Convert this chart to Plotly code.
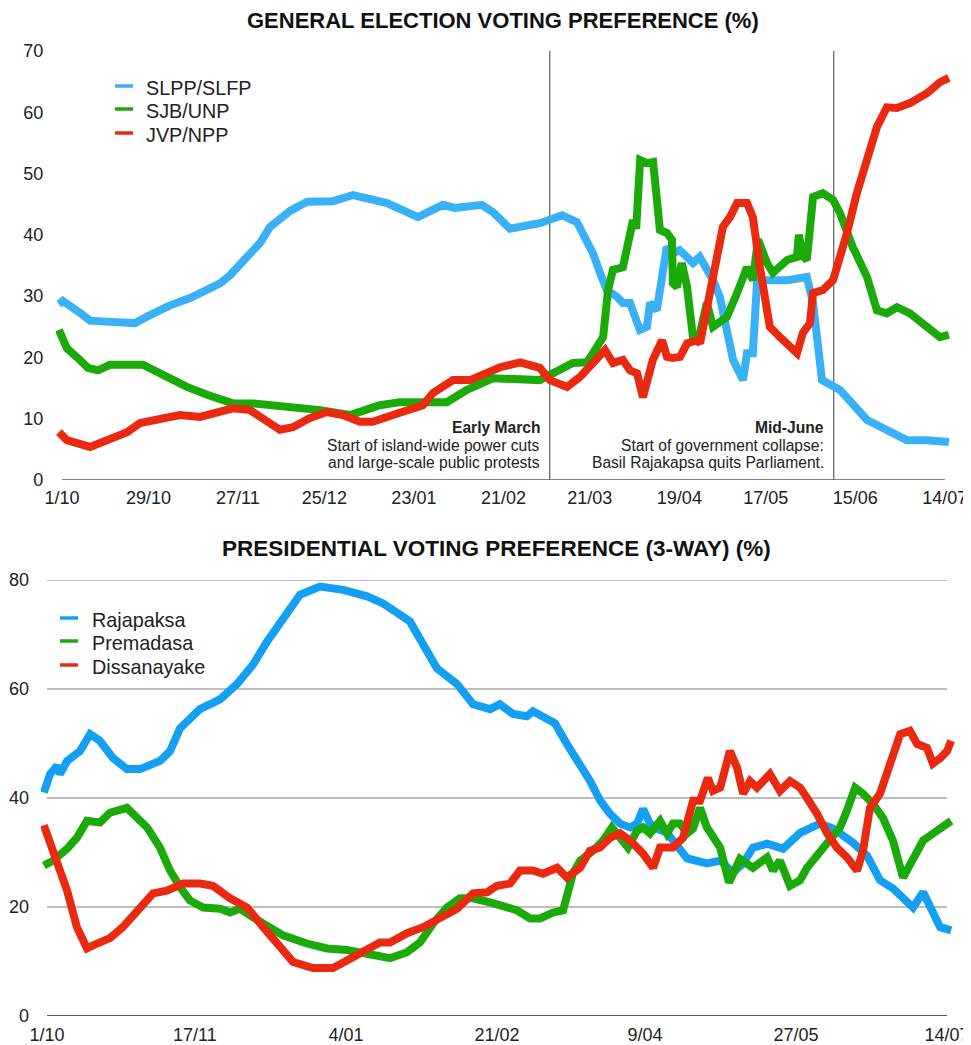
import pandas as pd
import plotly.graph_objects as go

START = pd.Timestamp("2021-10-01")

# ---------------- General election voting preference (%) ----------------
slpp_day = [-1.0, 0.3, 5.8, 9.1, 15.5, 23.6, 28.5, 35.0, 41.5, 44.7, 51.2, 54.4, 59.3, 64.2, 67.4,
            73.9, 79.4, 87.8, 94.3, 105.3, 115.3, 123.4, 127.3, 136.0, 139.6, 145.1, 154.8, 162.0,
            166.8, 172.0, 174.3, 176.5, 179.8, 181.7, 184.0, 187.2, 189.5, 190.5, 192.7, 194.3,
            195.9, 197.9, 200.1, 202.4, 204.4, 206.6, 208.9, 210.9, 213.1, 215.7, 217.4, 220.6,
            221.9, 223.8, 225.2, 234.9, 241.3, 243.3, 246.2, 252.0, 254.3, 260.8, 262.7, 273.7,
            280.2, 287.3]
slpp_val = [28.7, 29.2, 27.3, 26.0, 25.8, 25.6, 26.9, 28.5, 29.7, 30.5, 32.1, 33.4, 36.0, 38.7, 41.3,
            43.9, 45.4, 45.5, 46.5, 45.2, 42.9, 44.9, 44.4, 44.9, 43.7, 41.0, 41.9, 43.2,
            42.1, 37.0, 33.8, 31.0, 29.9, 28.9, 28.9, 24.5, 25.0, 28.9, 27.7, 32.6,
            38.0, 37.0, 37.5, 36.4, 35.4, 36.4, 34.3, 32.6, 29.9, 24.0, 19.6, 16.3,
            20.7, 20.7, 32.6, 32.6, 33.1, 28.9, 16.3, 14.7, 13.5, 9.8, 9.3, 6.5,
            6.5, 6.2]

sjb_day = [-1.0, 1.6, 5.8, 8.4, 11.7, 15.5, 26.2, 34.0, 40.5, 47.0, 55.4, 61.9, 69.6, 77.1, 83.6,
           93.3, 95.9, 103.0, 109.5, 124.7, 131.2, 139.6, 154.8, 160.3, 165.5, 170.1, 173.3, 175.3,
           176.9, 178.5, 181.7, 183.4, 185.0, 186.0, 187.3, 189.5, 191.5, 193.7, 196.0, 197.6,
           197.9, 199.2, 200.8, 202.5, 204.4, 206.7, 208.9, 210.9, 215.4, 218.7, 221.9, 223.8,
           225.5, 228.4, 230.3, 234.9, 238.1, 238.7, 240.0, 241.3, 243.3, 246.5, 249.8, 252.0,
           256.2, 260.8, 264.0, 267.2, 270.5, 274.7, 280.2, 284.4, 287.3]
sjb_val = [24.5, 21.5, 19.6, 18.3, 17.9, 18.8, 18.8, 16.8, 15.2, 13.9, 12.5, 12.5, 12.2, 11.7, 11.4,
           10.6, 11.0, 12.2, 12.7, 12.7, 14.7, 16.6, 16.3, 17.6, 19.1, 19.2, 21.7, 23.3,
           31.0, 34.3, 34.7, 39.5, 42.4, 41.0, 52.2, 51.7, 51.9, 40.8, 40.3, 39.2,
           32.1, 31.5, 35.4, 31.5, 23.3, 24.0, 28.9, 25.0, 26.6, 30.5, 34.7, 32.6,
           39.2, 35.4, 33.8, 35.9, 36.4, 40.0, 36.5, 35.9, 46.2, 46.8, 45.7, 43.6,
           38.0, 33.1, 27.7, 27.2, 28.2, 27.2, 25.0, 23.3, 23.7]

jvp_day = [-1.0, 1.6, 9.1, 15.5, 21.1, 25.3, 31.7, 38.2, 44.7, 50.2, 55.4, 60.9, 66.4, 70.6, 74.8,
           80.3, 85.8, 91.0, 96.5, 100.7, 107.2, 113.7, 116.9, 120.2, 126.7, 132.2, 141.9, 148.4,
           154.8, 158.1, 163.6, 167.8, 172.0, 175.9, 178.5, 181.7, 184.0, 186.3, 188.2, 191.4,
           194.4, 196.0, 197.9, 200.2, 202.5, 205.7, 206.7, 209.9, 212.2, 214.1, 216.4, 218.7,
           221.9, 222.9, 223.8, 226.1, 228.4, 229.3, 232.6, 235.8, 238.1, 240.0, 242.3, 243.3,
           246.5, 249.8, 252.0, 254.3, 257.5, 260.8, 264.0, 267.2, 270.5, 274.7, 280.2, 284.4, 287.3]
jvp_val = [7.8, 6.5, 5.4, 6.5, 7.8, 9.3, 10.1, 10.6, 10.3, 10.9, 11.7, 11.4, 9.5, 8.2, 8.6,
           10.1, 11.1, 10.6, 9.5, 9.5, 10.6, 11.7, 12.2, 14.2, 16.3, 16.3, 18.4, 19.2,
           18.3, 16.3, 15.2, 16.8, 19.1, 21.2, 19.1, 19.6, 17.9, 17.4, 13.5, 19.6,
           22.8, 20.1, 19.9, 20.1, 22.3, 22.8, 22.3, 30.5, 38.0, 41.3, 42.9, 45.2,
           45.2, 43.6, 42.9, 34.7, 28.2, 25.0, 23.3, 21.7, 20.7, 24.0, 25.6, 30.5,
           31.0, 32.6, 35.9, 40.3, 46.8, 52.2, 57.6, 60.8, 60.7, 61.5, 63.1, 64.9, 65.6]

top_tick_dates = ["2021-10-01", "2021-10-29", "2021-11-27", "2021-12-25", "2022-01-23", "2022-02-21",
                  "2022-03-21", "2022-04-19", "2022-05-17", "2022-06-15", "2022-07-14"]
top_tick_text = ["1/10", "29/10", "27/11", "25/12", "23/01", "21/02", "21/03", "19/04", "17/05",
                 "15/06", "14/07"]
top_y_ticks = [0, 10, 20, 30, 40, 50, 60, 70]

event_dates = ["2022-03-08", "2022-06-08"]
event_heads = ["Early March", "Mid-June"]
event_line1 = ["Start of island-wide power cuts", "Start of government collapse:"]
event_line2 = ["and large-scale public protests", "Basil Rajakapsa quits Parliament."]

# ---------------- Presidential voting preference (3-way) (%) ----------------
raja_day = [-1.0, 1.0, 3.2, 4.1, 6.4, 10.5, 13.7, 16.8, 21.0, 25.4, 29.6, 35.9, 39.1, 42.3, 48.6,
            55.0, 60.4, 65.5, 69.9, 75.0, 80.4, 86.7, 94.1, 101.7, 106.8, 115.3, 119.5, 123.9,
            130.3, 135.4, 140.8, 143.9, 148.1, 152.5, 154.4, 158.9, 161.4, 165.2, 169.4, 172.6,
            175.8, 178.9, 182.1, 185.3, 187.5, 189.4, 191.6, 193.8, 197.0, 201.1, 203.4, 209.7,
            213.9, 218.0, 221.2, 224.3, 228.8, 233.9, 239.3, 245.6, 249.8, 256.1, 260.6, 264.7,
            268.8, 275.2, 278.4, 283.8, 287.3]
raja_val = [41.0, 44.4, 45.9, 44.4, 46.8, 48.6, 51.7, 50.5, 47.3, 45.3, 45.3, 46.8, 48.6, 52.8, 56.3,
            58.1, 60.9, 64.5, 68.7, 72.9, 77.3, 78.8, 78.2, 77.0, 75.7, 72.4, 68.2, 63.8,
            60.9, 57.2, 56.3, 57.2, 55.4, 55.0, 55.9, 54.7, 53.7, 49.9, 46.3, 43.1,
            39.5, 37.1, 35.3, 34.6, 35.3, 38.0, 35.3, 34.4, 33.6, 30.9, 28.9, 28.0,
            28.5, 26.3, 28.0, 30.9, 31.6, 30.7, 33.6, 35.3, 34.4, 31.8, 29.4, 24.9,
            23.4, 19.9, 22.7, 16.3, 15.7]

prem_day = [-1.0, 1.9, 6.4, 9.5, 12.7, 16.8, 20.0, 23.2, 25.4, 28.6, 31.8, 35.9, 39.1, 42.3, 45.4,
            49.6, 55.0, 58.2, 61.3, 65.5, 69.9, 75.0, 82.6, 89.0, 95.3, 101.7, 109.0, 114.4,
            118.5, 122.7, 127.1, 131.2, 135.4, 141.7, 149.3, 153.5, 156.7, 160.8, 164.0, 167.1,
            169.4, 173.5, 176.7, 179.5, 182.1, 184.6, 187.5, 189.4, 191.6, 194.8, 197.0, 198.9,
            201.1, 203.4, 205.3, 207.5, 209.7, 213.9, 216.7, 220.2, 224.3, 228.8, 230.7, 232.9,
            236.1, 239.3, 241.5, 245.6, 248.8, 252.0, 254.2, 256.8, 259.3, 262.5, 265.6, 268.8,
            272.0, 275.2, 278.4, 283.8, 287.3]
prem_val = [27.6, 28.5, 30.7, 32.7, 35.8, 35.5, 37.3, 38.0, 38.2, 36.4, 34.6, 30.9, 26.7, 23.6, 21.2,
            19.9, 19.7, 19.0, 19.7, 18.1, 16.6, 14.8, 13.3, 12.4, 12.1, 11.5, 10.6, 11.7,
            13.5, 17.0, 19.9, 21.6, 21.6, 20.7, 19.4, 17.9, 17.9, 19.0, 19.4, 26.1,
            28.5, 30.3, 32.2, 34.6, 32.7, 30.9, 34.0, 34.6, 33.5, 35.8, 33.5, 35.3,
            35.3, 33.5, 34.4, 38.2, 34.6, 30.9, 24.5, 28.8, 27.2, 29.1, 26.7, 28.5,
            23.9, 24.9, 27.2, 30.3, 32.2, 34.6, 37.7, 41.9, 40.8, 38.9, 36.4, 32.2,
            25.4, 28.5, 32.2, 34.4, 35.8]

diss_day = [-1.0, 1.0, 4.1, 6.4, 9.5, 12.7, 15.9, 20.0, 24.1, 28.6, 33.7, 38.1, 43.2, 48.6, 52.7,
            58.2, 63.6, 67.7, 73.1, 78.2, 84.5, 90.9, 95.3, 101.7, 105.8, 109.0, 114.4, 119.5,
            124.9, 130.3, 135.4, 139.8, 143.0, 147.1, 150.3, 154.4, 157.6, 162.1, 165.2, 169.4,
            172.5, 175.7, 178.9, 182.1, 185.3, 187.5, 189.4, 192.6, 194.8, 198.9, 202.1, 205.3,
            207.5, 210.0, 211.6, 213.9, 217.0, 219.3, 221.2, 223.4, 225.6, 229.7, 232.9, 236.1,
            239.3, 241.5, 244.7, 247.9, 251.0, 254.2, 257.4, 259.3, 261.5, 264.7, 267.9, 271.1,
            274.2, 276.5, 279.6, 281.5, 283.8, 286.0, 287.3]
diss_val = [35.0, 31.8, 27.2, 23.0, 16.3, 12.4, 13.3, 14.3, 16.3, 19.4, 22.5, 23.0, 24.3, 24.3, 23.9,
            21.6, 19.9, 17.0, 13.3, 9.9, 8.8, 8.8, 10.2, 12.4, 13.5, 13.5, 15.2, 16.3,
            17.9, 19.7, 22.5, 22.7, 23.9, 24.3, 26.7, 26.7, 26.1, 27.2, 25.4, 27.2,
            30.3, 30.9, 32.7, 33.5, 32.2, 30.9, 29.8, 27.2, 30.9, 30.9, 32.7, 39.5,
            39.5, 43.7, 41.3, 41.9, 48.6, 45.5, 40.8, 43.1, 41.9, 44.4, 41.3, 43.1,
            41.9, 40.0, 37.1, 33.5, 30.9, 29.1, 26.7, 30.3, 38.2, 40.8, 46.3, 51.7,
            52.3, 49.9, 49.2, 46.3, 47.3, 48.6, 50.5]

bot_tick_dates = ["2021-10-01", "2021-11-17", "2022-01-04", "2022-02-21", "2022-04-09", "2022-05-27",
                  "2022-07-14"]
bot_tick_text = ["1/10", "17/11", "4/01", "21/02", "9/04", "27/05", "14/07"]
bot_y_ticks = [0, 20, 40, 60, 80]

# ---------------- styling ----------------
FONT = "Liberation Sans, Arial, Helvetica, sans-serif"
BLUE_TOP = "#3AB0F6"
BLUE_BOT = "#14A0F2"
GREEN = "#1CAA0B"
RED = "#EA2A10"
LW = 8

# the page body has an 8px margin: figure is sized so it fits the window
OFF = 8
W, H = 971 - OFF, 1045 - OFF


def px(x):   # window pixel -> paper x
    return (x - OFF) / W


def py(y):   # window pixel -> paper y
    return 1 - (y - OFF) / H


def to_dates(days):
    return START + pd.to_timedelta(days, unit="D")


fig = go.Figure()

top_series = [("SLPP/SLFP", slpp_day, slpp_val, BLUE_TOP),
              ("SJB/UNP", sjb_day, sjb_val, GREEN),
              ("JVP/NPP", jvp_day, jvp_val, RED)]
bot_series = [("Rajapaksa", raja_day, raja_val, BLUE_BOT),
              ("Premadasa", prem_day, prem_val, GREEN),
              ("Dissanayake", diss_day, diss_val, RED)]

for (name, d, v, c), (xa, ya) in [(s, ("x", "y")) for s in top_series] + \
                                 [(s, ("x2", "y2")) for s in bot_series]:
    fig.add_trace(go.Scatter(x=to_dates(d), y=v, mode="lines", name=name,
                             line=dict(color=c, width=LW), xaxis=xa, yaxis=ya,
                             showlegend=False))

tickfont = dict(family=FONT, size=18, color="#222")
rng = [START - pd.Timedelta(days=2), START + pd.Timedelta(days=289)]

shapes = []
shapes.append(dict(type="line", xref="x", yref="y", x0=top_tick_dates[0], x1=top_tick_dates[-1],
                   y0=0, y1=0, line=dict(color="#808080", width=2), layer="below"))
for ed in event_dates:
    shapes.append(dict(type="line", xref="x", yref="y", x0=ed, x1=ed, y0=0, y1=70,
                       line=dict(color="#6a6a6a", width=1.3), layer="below"))
for yv in bot_y_ticks:
    shapes.append(dict(type="line", xref="x2", yref="y2", x0=bot_tick_dates[0], x1=bot_tick_dates[-1],
                       y0=yv, y1=yv,
                       line=dict(color="#5a5a5a" if yv == 0 else "#a8a8a8", width=2 if yv == 0 else 1.3),
                       layer="below"))

annotations = [
    dict(text="<b>GENERAL ELECTION VOTING PREFERENCE (%)</b>", xref="paper", yref="paper",
         x=px(503), y=py(21), xanchor="center", yanchor="middle", showarrow=False,
         font=dict(family=FONT, size=22, color="#111")),
    dict(text="<b>PRESIDENTIAL VOTING PREFERENCE (3-WAY) (%)</b>", xref="paper", yref="paper",
         x=px(497), y=py(548), xanchor="center", yanchor="middle", showarrow=False,
         font=dict(family=FONT, size=22.5, color="#111")),
]
for ed, hd, l1, l2 in zip(event_dates, event_heads, event_line1, event_line2):
    for txt, ty, bold in [(hd, 427, True), (l1, 445, False), (l2, 462, False)]:
        annotations.append(dict(text=f"<b>{txt}</b>" if bold else txt, xref="x", yref="paper",
                                x=ed, xshift=-8, y=py(ty), xanchor="right", yanchor="middle",
                                showarrow=False,
                                font=dict(family=FONT, size=15.6, color="#222")))

# legend keys (short thin line + label), drawn as in the original
legend_specs = [(top_series, 115, 133, 144, [88, 111, 135]),
                (bot_series, 60, 78, 90, [620, 643, 667])]
for series, lx0, lx1, tx, rows in legend_specs:
    for (name, _, _, c), ry in zip(series, rows):
        shapes.append(dict(type="line", xref="paper", yref="paper", x0=px(lx0), x1=px(lx1),
                           y0=py(ry - 2), y1=py(ry - 2), line=dict(color=c, width=3.5)))
        annotations.append(dict(text=name, xref="paper", yref="paper", x=px(tx), y=py(ry),
                                xanchor="left", yanchor="middle", showarrow=False,
                                font=dict(family=FONT, size=19.8, color="#222")))

axis_common = dict(showgrid=False, zeroline=False, showline=False, automargin=False,
                   tickcolor="rgba(0,0,0,0)", tickfont=tickfont, ticks="outside")

fig.update_layout(
    width=W, height=H, margin=dict(l=0, r=0, t=0, b=0, pad=0, autoexpand=False),
    paper_bgcolor="white", plot_bgcolor="white",
    font=dict(family=FONT, color="#222"),
    xaxis=dict(domain=[px(55.8), px(954.1)], anchor="y", type="date", range=rng,
               tickmode="array", tickvals=top_tick_dates, ticktext=top_tick_text,
               ticklen=1, **axis_common),
    yaxis=dict(domain=[py(480), py(51)], anchor="x", range=[0, 70],
               tickmode="array", tickvals=top_y_ticks, ticklen=8, **axis_common),
    xaxis2=dict(domain=[px(40.7), px(956.5)], anchor="y2", type="date", range=rng,
                tickmode="array", tickvals=bot_tick_dates, ticktext=bot_tick_text,
                ticklen=2, **axis_common),
    yaxis2=dict(domain=[py(1016), py(580)], anchor="x2", range=[0, 80],
                tickmode="array", tickvals=bot_y_ticks, ticklen=7, **axis_common),
    shapes=shapes, annotations=annotations, showlegend=False,
)

fig.write_html("out.html")
